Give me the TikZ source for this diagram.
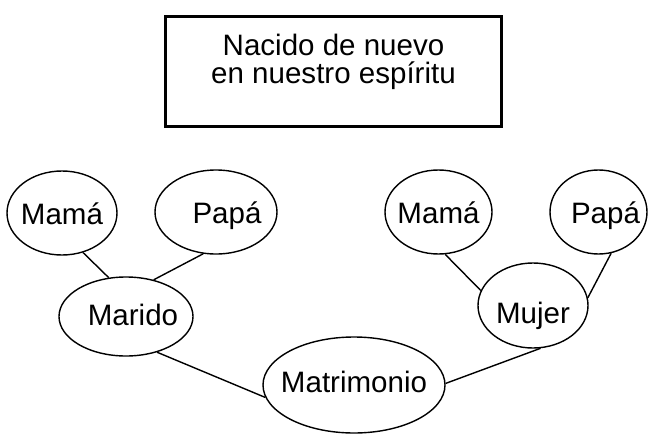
\documentclass[tikz,border=0pt]{standalone}
\usepackage{fontspec}
\setmainfont{Liberation Sans}
\usetikzlibrary{shapes}

\begin{document}
\begin{tikzpicture}[
        every node/.style={font=\fontsize{21}{20}\selectfont},
        globo/.style={draw, ellipse, line width=1pt, inner xsep=-2cm, inner ysep=-1cm, text height=0.65cm, text depth=0.1cm},
        linea/.style={line width=1pt}]
        \useasboundingbox (0, 0) rectangle (16.2, 10.875);
        \node[draw, line width=2.1pt, minimum width=8.4cm, minimum height=2.75cm] (caja) at (8.3375, 9.0875) {};
        \node[align=center] (titulo) at (8.3375, 9.3375) {Nacido de nuevo\\en nuestro espíritu};
        \node[globo, minimum width=2.75cm, minimum height=2.1cm] (mamaA) at (1.55, 5.55) {Mamá};
        \node[globo, minimum width=3.05cm, minimum height=2.1cm] (papaA) at (5.4, 5.575) {\hspace*{0.55cm}Papá};
        \node[globo, minimum width=2.675cm, minimum height=2.1cm] (mamaB) at (10.9625, 5.575) {Mamá};
        \node[globo, minimum width=2.425cm, minimum height=2.1cm] (papaB) at (14.9625, 5.575) {\hspace*{0.35cm}Papá};
        \node[globo, minimum width=3.35cm, minimum height=1.975cm, text height=0.525cm] (marido) at (3.15, 2.9625) {\hspace*{0.35cm}Marido};
        \node[globo, minimum width=2.75cm, minimum height=2.125cm, text height=0.975cm] (mujer) at (13.325, 3.2375) {Mujer};
        \node[globo, minimum width=4.55cm, minimum height=2.4cm, text height=0.45cm] (matrimonio) at (8.85, 1.25) {Matrimonio};
        \draw[linea] (mamaA.-62) -- (marido.114);
        \draw[linea] (papaA.-107) -- (marido.53);
        \draw[linea] (mamaB.-81) -- (mujer.164);
        \draw[linea] (papaB.-73) -- (mujer.8);
        \draw[linea] (marido.-49) -- (matrimonio.-172);
        \draw[linea] (matrimonio.1) -- (mujer.-80);
      \end{tikzpicture}
\end{document}
